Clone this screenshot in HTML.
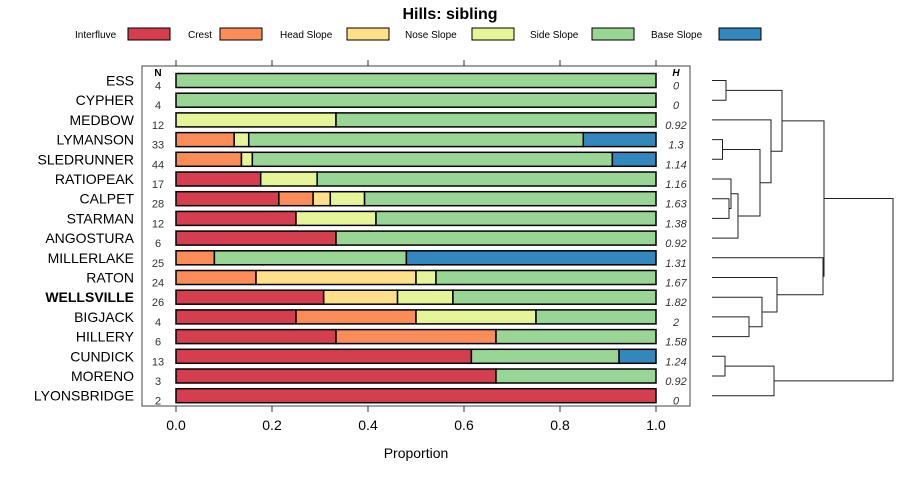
<!DOCTYPE html>
<html><head><meta charset="utf-8"><style>
body{margin:0;background:#fff;font-family:"Liberation Sans",sans-serif}
</style></head><body>
<svg id="chart" width="900" height="480" xmlns="http://www.w3.org/2000/svg">
<text x="450" y="19" text-anchor="middle" font-size="16" font-weight="bold">Hills: sibling</text>
<g id="legend"></g>
<rect x="142" y="66" width="548" height="340" fill="none" stroke="#444" stroke-width="1"/>
<g id="bars"></g>
<g id="axis"></g>
<g id="dendro"></g>
<text x="416" y="458" text-anchor="middle" font-size="14">Proportion</text>
</svg>
<script>
const classes = ["Interfluve","Crest","Head Slope","Nose Slope","Side Slope","Base Slope"];
const colors = ["#d53e4f","#fc8d59","#fee08b","#e6f598","#99d594","#3288bd"];
const series = ["ESS","CYPHER","MEDBOW","LYMANSON","SLEDRUNNER","RATIOPEAK","CALPET","STARMAN","ANGOSTURA","MILLERLAKE","RATON","WELLSVILLE","BIGJACK","HILLERY","CUNDICK","MORENO","LYONSBRIDGE"];
const counts = [
 [0,0,0,0,4,0],[0,0,0,0,4,0],[0,0,0,4,8,0],[0,4,0,1,23,5],[0,6,0,1,33,4],
 [3,0,0,2,12,0],[6,2,1,2,17,0],[3,0,0,2,7,0],[2,0,0,0,4,0],[0,2,0,0,10,13],
 [0,4,8,1,11,0],[8,0,4,3,11,0],[1,1,0,1,1,0],[2,2,0,0,2,0],[8,0,0,0,4,1],
 [2,0,0,0,1,0],[2,0,0,0,0,0]];
const Nvals = [4,4,12,33,44,17,28,12,6,25,24,26,4,6,13,3,2];
const Hvals = ["0","0","0.92","1.3","1.14","1.16","1.63","1.38","0.92","1.31","1.67","1.82","2","1.58","1.24","0.92","0"];
const xTicks = [0,0.2,0.4,0.6,0.8,1.0];
const xTickLabels = ["0.0","0.2","0.4","0.6","0.8","1.0"];
const merges = [
 [-1,-2,14],[-4,-5,10.5],[-7,-8,17],[-6,3,19],[-9,4,26],[2,5,48],[-3,6,59],[1,7,70],
 [-13,-14,37],[-12,9,50],[-11,10,65],[-10,11,111],[8,12,112],[-15,-16,13],[-17,14,62],[13,15,181]];

const NS="http://www.w3.org/2000/svg";
function mk(tag,attrs,parent){const e=document.createElementNS(NS,tag);for(const k in attrs)e.setAttribute(k,attrs[k]);parent.appendChild(e);return e;}
const xs=v=>176+v*480;
const ys=i=>80.5+i*19.7;

const leg=document.getElementById('legend');
const legTextX=[75,188,280,405,530,651];
const legSwX=[128,220,347,472,592,719];
classes.forEach((c,i)=>{
 const t=mk('text',{x:legTextX[i],y:38,'font-size':10},leg);t.textContent=c;
 
 
 const r=mk('rect',{x:legSwX[i],y:28,width:42,height:12,fill:colors[i],stroke:'#000','stroke-width':1},leg);
 
 
});

const bars=document.getElementById('bars');
let th=mk('text',{x:158,y:76,'text-anchor':'middle','font-size':10,'font-weight':'bold'},bars);th.textContent='N';


th=mk('text',{x:676,y:76,'text-anchor':'middle','font-size':10,'font-weight':'bold','font-style':'italic'},bars);th.textContent='H';


series.forEach((s,i)=>{
 const y=ys(i);
 const lab=mk('text',{x:134,y:y+5,'text-anchor':'end','font-size':14,'font-weight':s==='WELLSVILLE'?'bold':'normal'},bars);
 lab.textContent=s;
 
 
 const total=counts[i].reduce((a,b)=>a+b,0);
 let cum=0;
 counts[i].forEach((c,k)=>{
  if(!c)return;
  const p0=cum/total;cum+=c;const p1=cum/total;
  const r=mk('rect',{x:xs(p0),y:y-7,width:xs(p1)-xs(p0),height:14,fill:colors[k],stroke:'#000','stroke-width':1.5},bars);
  
  
 });
 const n=mk('text',{x:158,y:y+9,'text-anchor':'middle','font-size':11,fill:'#333'},bars);n.textContent=Nvals[i];
 
 
 const h=mk('text',{x:676,y:y+9,'text-anchor':'middle','font-size':11,'font-style':'italic',fill:'#333'},bars);h.textContent=Hvals[i];
 
 
});

const ax=document.getElementById('axis');
xTicks.forEach((v,i)=>{
 mk('line',{x1:xs(v),x2:xs(v),y1:60,y2:66,stroke:'#333'},ax);
 mk('line',{x1:xs(v),x2:xs(v),y1:406,y2:412,stroke:'#333'},ax);
 const t=mk('text',{x:xs(v),y:430,'text-anchor':'middle','font-size':14},ax);t.textContent=xTickLabels[i];
 
 
});

const dg=document.getElementById('dendro');
const dx=h=>712+h;
const nodes=[];
function pos(id){return id<0?{y:ys(-id-1),h:0}:nodes[id-1];}
merges.forEach(m=>{
 const a=pos(m[0]),b=pos(m[1]),h=m[2];
 const p=mk('path',{d:`M${dx(a.h)},${a.y}H${dx(h)}V${b.y}H${dx(b.h)}`,fill:'none',stroke:'#222','stroke-width':1},dg);
 
 
 nodes.push({y:(a.y+b.y)/2,h:h});
});
</script>
</body></html>
